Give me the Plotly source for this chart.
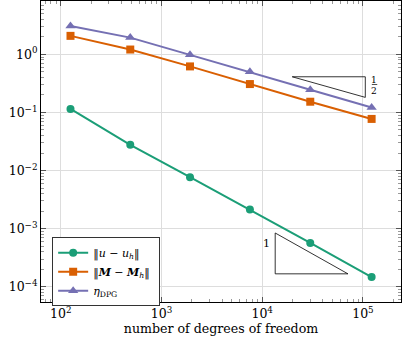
import numpy as np
import plotly.graph_objects as go

# degrees of freedom and error values
ndof = [125, 490, 1920, 7550, 30000, 122000]
err_u = [0.115, 0.0277, 0.0077, 0.00213, 0.000569, 0.000147]
err_M = [2.08, 1.21, 0.62, 0.308, 0.153, 0.0774]
eta_dpg = [3.08, 1.94, 0.98, 0.50, 0.246, 0.122]

# slope triangles
tri_half_x = [19870, 105600, 105600, 19870]
tri_half_y = [0.411, 0.411, 0.1816, 0.411]
tri_one_x = [13460, 13460, 71000, 13460]
tri_one_y = [0.000843, 0.000167, 0.000167, 0.000843]

green = "#1b9e77"
orange = "#d95f02"
purple = "#7570b3"
font = "DejaVu Serif"

fig = go.Figure()
fig.add_trace(go.Scatter(x=ndof, y=err_u, mode="lines+markers", name="‖<i>u</i> − <i>u<sub>h</sub></i>‖ ",
                         line=dict(color=green, width=2), marker=dict(symbol="circle", size=8, color=green)))
fig.add_trace(go.Scatter(x=ndof, y=err_M, mode="lines+markers", name="‖<b><i>M</i></b> − <b><i>M</i></b><sub><i>h</i></sub>‖ ",
                         line=dict(color=orange, width=2), marker=dict(symbol="square", size=8, color=orange)))
fig.add_trace(go.Scatter(x=ndof, y=eta_dpg, mode="lines+markers", name="<i>η</i><sub>DPG</sub>",
                         line=dict(color=purple, width=2), marker=dict(symbol="triangle-up", size=9, color=purple)))
fig.add_trace(go.Scatter(x=tri_half_x, y=tri_half_y, mode="lines", showlegend=False,
                         line=dict(color="black", width=0.8), hoverinfo="skip"))
fig.add_trace(go.Scatter(x=tri_one_x, y=tri_one_y, mode="lines", showlegend=False,
                         line=dict(color="black", width=0.8), hoverinfo="skip"))

def minor_vals(lo, hi):
    return [m * 10.0 ** e for e in range(lo, hi) for m in range(2, 10)]

axis_common = dict(
    type="log", showline=True, linecolor="black", linewidth=1, mirror="allticks",
    ticks="inside", ticklen=5, tickcolor="#555", showgrid=True, gridcolor="#dddddd", gridwidth=1,
    zeroline=False, automargin=False, tickfont=dict(family=font, size=12.5, color="black"),
)

fig.update_xaxes(**axis_common, range=[1.804, 5.378],
                 tickvals=[1e2, 1e3, 1e4, 1e5],
                 ticktext=["10<sup>2</sup>", "10<sup>3</sup>", "10<sup>4</sup>", "10<sup>5</sup>"],
                 minor=dict(ticks="inside", ticklen=3, tickcolor="#999", showgrid=False,
                            tickmode="array", tickvals=minor_vals(1, 6)),
                 title=dict(text="number of degrees of freedom", font=dict(family=font, size=12.6, color="black"),
                            standoff=4))
fig.update_yaxes(**axis_common, range=[-4.262, 0.918],
                 tickvals=[1e0, 1e-1, 1e-2, 1e-3, 1e-4],
                 ticktext=["10<sup>0</sup>", "10<sup>−1</sup>", "10<sup>−2</sup>", "10<sup>−3</sup>", "10<sup>−4</sup>"],
                 minor=dict(ticks="inside", ticklen=3, tickcolor="#999", showgrid=False,
                            tickmode="array", tickvals=minor_vals(-5, 1)))

fig.add_annotation(xref="x domain", yref="y domain", x=0.926, y=0.7375, text="1", showarrow=False,
                   xanchor="center", yanchor="middle", borderpad=0,
                   font=dict(family=font, size=9, color="black"))
fig.add_annotation(xref="x domain", yref="y domain", x=0.926, y=0.701, text="2", showarrow=False,
                   xanchor="center", yanchor="middle", borderpad=0,
                   font=dict(family=font, size=9, color="black"))
fig.add_shape(type="line", xref="x domain", yref="y domain", x0=0.919, x1=0.934, y0=0.7226, y1=0.7226,
              line=dict(color="black", width=0.7))
fig.add_annotation(xref="x domain", yref="y domain", x=0.627, y=0.167, text="1", showarrow=False,
                   font=dict(family=font, size=11, color="black"))

fig.update_layout(
    width=402, height=349,
    margin=dict(l=41, r=1, t=1, b=47),
    plot_bgcolor="white", paper_bgcolor="white",
    font=dict(family=font, size=12, color="black"),
    legend=dict(x=0.031, y=0.215, xanchor="left", yanchor="top",
                bordercolor="#333", borderwidth=1, bgcolor="white",
                font=dict(family=font, size=11), tracegroupgap=0, itemwidth=30),
)

fig.write_html("out.html", config={"displayModeBar": False},
               post_script="document.body.style.margin='0';document.body.style.overflow='hidden';")
